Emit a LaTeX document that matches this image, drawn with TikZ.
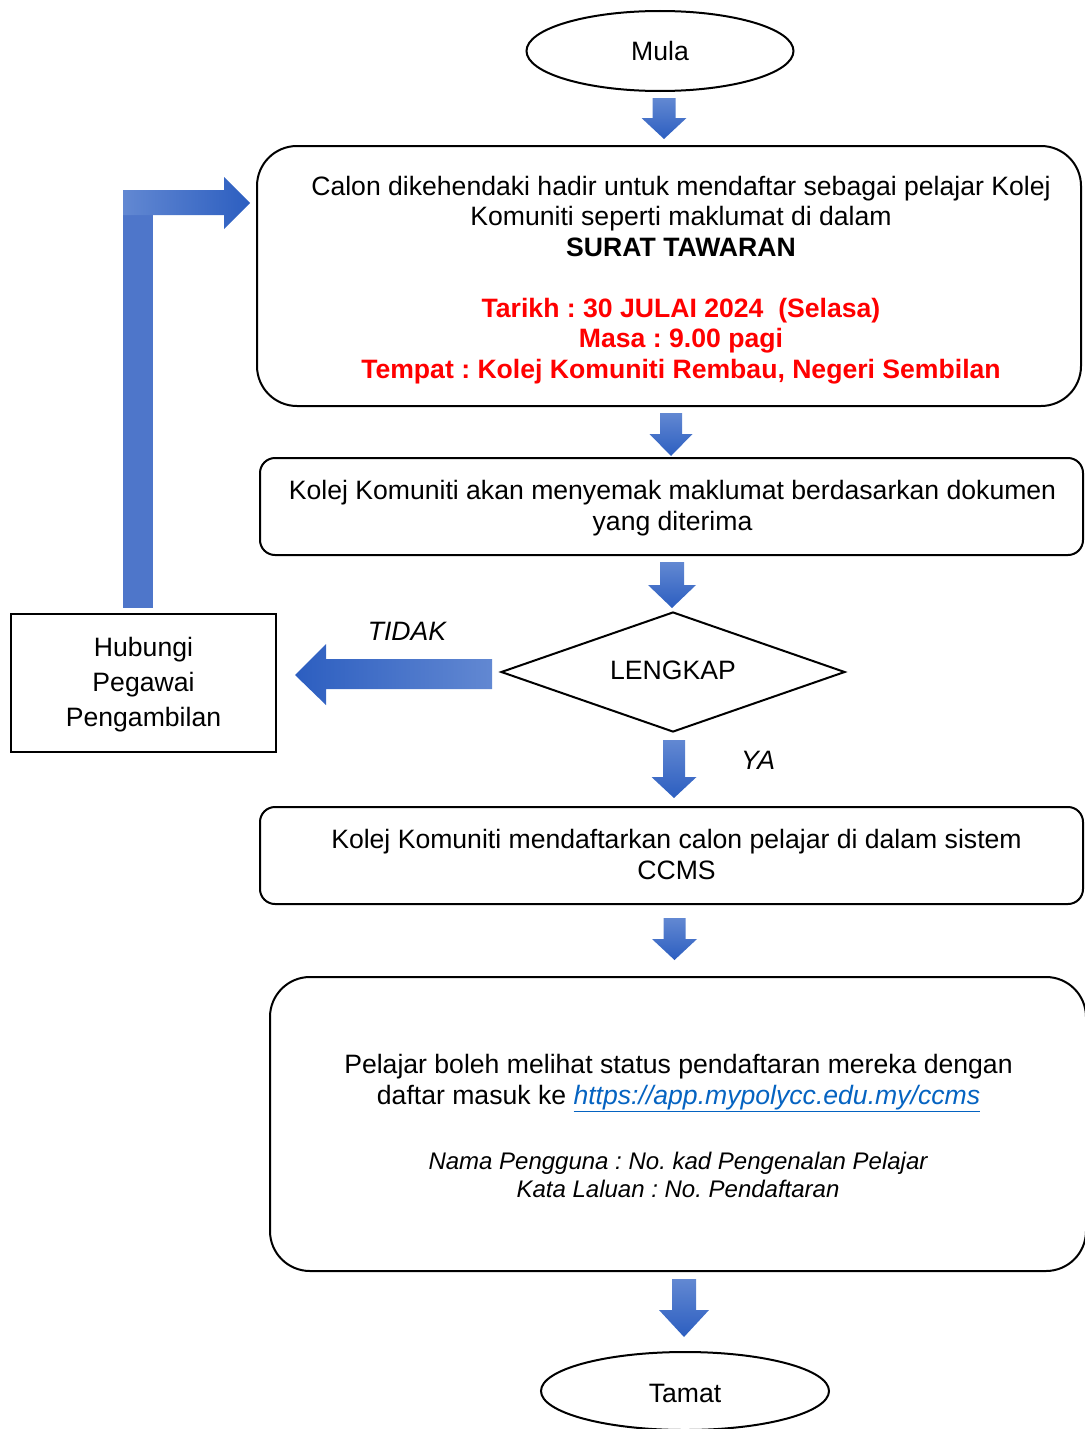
\documentclass[tikz,border=0pt]{standalone}
\usepackage{fontspec}
\setmainfont{Liberation Sans}
\usetikzlibrary{shapes.geometric}
\frenchspacing
\definecolor{arlight}{RGB}{98,136,210}
\definecolor{ardark}{RGB}{44,94,192}
\definecolor{armid}{RGB}{78,118,202}
\definecolor{linkblue}{RGB}{5,99,193}
\definecolor{redtxt}{RGB}{255,0,0}
\newcommand{\blkdown}[6]{%
  \shade[top color=arlight, bottom color=ardark] (#1-#5,#2) -- (#1+#5,#2) -- (#1+#5,#3) -- (#1+#6,#3) -- (#1,#4) -- (#1-#6,#3) -- (#1-#5,#3) -- cycle;}
\tikzset{
  txt/.style={font=\fontsize{26.6}{30.5}\selectfont\frenchspacing, inner sep=0pt, align=center},
  smalltxt/.style={font=\fontsize{24}{28}\selectfont\itshape\frenchspacing, inner sep=0pt, align=center},
  rbox/.style={draw, line width=2pt, rounded corners=#1, inner sep=0pt},
  termin/.style={draw, line width=2pt, ellipse, inner sep=0pt},
}
\begin{document}
\begin{tikzpicture}[x=1pt, y=-1pt]
\useasboundingbox (0,0) rectangle (1084,1429);

% Start
\node[termin, minimum width=267, minimum height=80] (mula) at (660,51) {};
\node[txt] (mulat) at (660,51) {Mula};

% Box 1
\node[rbox=40, minimum width=824, minimum height=260] (b1) at (669,276) {};
\node[txt] (b1t) at (681,280) {Calon dikehendaki hadir untuk mendaftar sebagai pelajar Kolej\\
Komuniti seperti maklumat di dalam\\
\textbf{SURAT TAWARAN}\\[30.5pt]
\textcolor{redtxt}{\textbf{Tarikh : 30 JULAI 2024\ \ (Selasa)}}\\
\textcolor{redtxt}{\textbf{Masa : 9.00 pagi}}\\
\textcolor{redtxt}{\textbf{Tempat : Kolej Komuniti Rembau, Negeri Sembilan}}};

% Box 2
\node[rbox=15, minimum width=823, minimum height=97] (b2) at (671.5,506.5) {};
\node[txt] (b2t) at (672.5,508) {Kolej Komuniti akan menyemak maklumat berdasarkan dokumen\\yang diterima};

% Decision
\node[draw, line width=2pt, diamond, aspect=2.867, minimum width=344, minimum height=120, inner sep=0pt] (d) at (673,672) {};
\node[txt] (dt) at (673,670) {LENGKAP};

% Hubungi box
\node[draw, line width=2pt, minimum width=265, minimum height=138, inner sep=0pt] (hub) at (143.5,683) {};
\node[font=\fontsize{26.6}{35}\selectfont, inner sep=0pt, align=center] (hubt) at (143.5,685) {Hubungi\\Pegawai\\Pengambilan};

% Labels
\node[txt, font=\fontsize{26.6}{30.5}\selectfont\itshape] (tidak) at (407,631) {TIDAK};
\node[txt, font=\fontsize{26.6}{30.5}\selectfont\itshape] (ya) at (758,760) {YA};

% Box 3
\node[rbox=15, minimum width=823, minimum height=97] (b3) at (671.5,855.5) {};
\node[txt] (b3t) at (676.5,854.5) {Kolej Komuniti mendaftarkan calon pelajar di dalam sistem\\CCMS};

% Box 4
\node[rbox=40, minimum width=816, minimum height=294] (b4) at (678,1124) {};
\node[txt] (b4t) at (678.5,1083) {Pelajar boleh melihat status pendaftaran mereka dengan\\
daftar masuk ke \textcolor{linkblue}{\itshape\underline{https://app.mypolycc.edu.my/ccms}}};
\node[smalltxt] (b4s) at (678,1175) {Nama Pengguna : No. kad Pengenalan Pelajar\\Kata Laluan : No. Pendaftaran};

% End
\node[termin, minimum width=288, minimum height=78] (tamat) at (685,1391) {};
\node[txt] (tamatt) at (685,1393) {Tamat};

% Block arrows (down)
\blkdown{664}{98}{118}{139}{11.5}{22.5}
\blkdown{671}{413}{434}{456}{11}{21.5}
\blkdown{672}{562}{585}{608}{12}{24}
\blkdown{674}{740}{777}{798}{11}{22.5}
\blkdown{674.5}{918}{939}{960}{11}{22.5}
\blkdown{684}{1279}{1310}{1337}{12}{25}

% TIDAK arrow (left)
\shade[left color=ardark, right color=arlight] (492,659) -- (492,689) -- (326,689) -- (326,705) -- (295,675) -- (326,644) -- (326,659) -- cycle;

% Bent arrow back to box 1
\fill[armid] (123,215) rectangle (153,608);
\shade[left color=arlight, right color=ardark] (123,190) -- (224,190) -- (224,177) -- (250,203) -- (224,229) -- (224,215) -- (123,215) -- cycle;
\end{tikzpicture}
\end{document}
